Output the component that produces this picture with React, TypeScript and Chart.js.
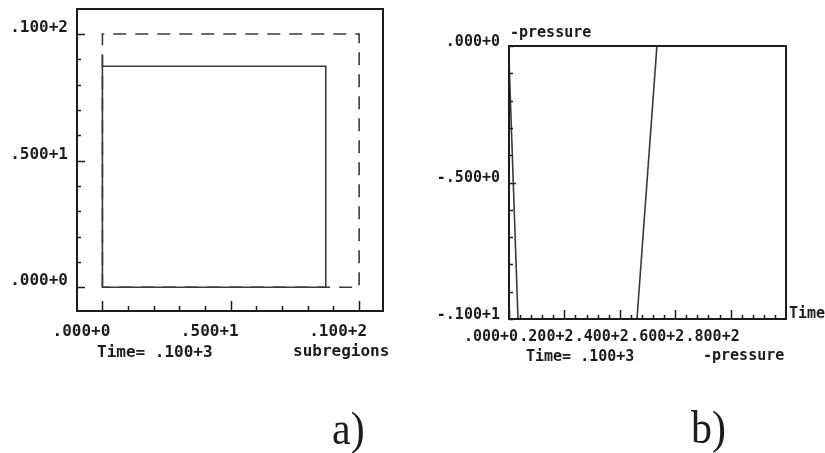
import React, { useEffect, useRef } from 'react';
import { Chart, registerables } from 'chart.js';
Chart.register(...registerables);

// ---------- Panel a) ----------
const aXTickValues = [0, 5, 10];
const aXTickLabels = ['.000+0', '.500+1', '.100+2'];
const aYTickValues = [0, 5, 10];
const aYTickLabels = ['.000+0', '.500+1', '.100+2'];
const aSolidX = [0, 0, 8.7, 8.7, 0];
const aSolidY = [9.15, 0, 0, 8.73, 8.73];
const aDashedX = [0, 0, 10, 10, 0];
const aDashedY = [0, 10, 10, 0, 0];

// ---------- Panel b) ----------
const bXTickValues = [0, 20, 40, 60, 80];
const bXTickLabels = ['.000+0', '.200+2', '.400+2', '.600+2', '.800+2'];
const bYTickValues = [-1, -0.5, 0];
const bYTickLabels = ['-.100+1', '-.500+0', '.000+0'];
const bLine1X = [0, 3.25];
const bLine1Y = [-0.05, -1];
const bLine2X = [46.2, 53.4];
const bLine2Y = [-1, 0];

const INK = '#1c1c1c';
const LINE = '#3a3a3a';
const MONO = "'DejaVu Sans Mono', 'Liberation Mono', monospace";

type TextItem = { text: string; x: number; y: number; serif?: boolean };
type TickSpec = { from: number; to: number; step: number; major: number[]; majorLen: number; minorLen: number };

function toPoints(xs: number[], ys: number[]) {
  return xs.map((x, i) => ({ x, y: ys[i] }));
}

function makePlugin(xt: TickSpec, yt: TickSpec, texts: TextItem[], fontSize: number) {
  return {
    id: 'frameAndText',
    afterDraw(chart: any) {
      const ctx = chart.ctx;
      const a = chart.chartArea;
      const xs = chart.scales.x;
      const ys = chart.scales.y;
      ctx.save();
      ctx.strokeStyle = INK;
      ctx.lineWidth = 2;
      ctx.strokeRect(a.left, a.top, a.right - a.left, a.bottom - a.top);
      ctx.lineWidth = 1.5;
      ctx.beginPath();
      const nx = Math.round((xt.to - xt.from) / xt.step);
      for (let i = 0; i <= nx; i++) {
        const v = xt.from + i * xt.step;
        const isMajor = xt.major.some((m) => Math.abs(m - v) < 1e-6);
        const px = Math.round(xs.getPixelForValue(v)) + 0.5;
        ctx.moveTo(px, a.bottom);
        ctx.lineTo(px, a.bottom - (isMajor ? xt.majorLen : xt.minorLen));
      }
      const ny = Math.round((yt.to - yt.from) / yt.step);
      for (let i = 0; i <= ny; i++) {
        const v = yt.from + i * yt.step;
        const isMajor = yt.major.some((m) => Math.abs(m - v) < 1e-6);
        const py = Math.round(ys.getPixelForValue(v)) + 0.5;
        ctx.moveTo(a.left, py);
        ctx.lineTo(a.left + (isMajor ? yt.majorLen : yt.minorLen), py);
      }
      ctx.stroke();
      ctx.fillStyle = INK;
      ctx.textBaseline = 'alphabetic';
      ctx.textAlign = 'left';
      for (const t of texts) {
        if (t.serif) {
          ctx.save();
          ctx.translate(t.x, t.y);
          ctx.scale(1, 1.12);
          ctx.font = "42px 'Liberation Serif', 'DejaVu Serif', serif";
          ctx.fillText(t.text, 0, 0);
          ctx.restore();
        } else {
          ctx.font = `bold ${fontSize}px ${MONO}`;
          ctx.fillText(t.text, t.x, t.y);
        }
      }
      ctx.restore();
    },
  };
}

function makeConfig(opts: {
  datasets: any[];
  xMin: number; xMax: number; yMin: number; yMax: number;
  xVals: number[]; xLabels: string[]; yVals: number[]; yLabels: string[];
  padding: any; yWidth: number; xHeight: number; fontSize: number;
  xLabelOffset: number; yLabelOffset: number; xPad: number; yPad: number;
  plugin: any;
}) {
  const font = { family: MONO, size: opts.fontSize, weight: 'bold' as const };
  return {
    type: 'scatter' as const,
    data: { datasets: opts.datasets },
    options: {
      animation: false,
      responsive: false,
      events: [],
      layout: { padding: opts.padding },
      plugins: { legend: { display: false }, tooltip: { enabled: false }, title: { display: false } },
      scales: {
        x: {
          type: 'linear',
          position: 'bottom',
          min: opts.xMin,
          max: opts.xMax,
          grid: { display: false, drawTicks: false },
          border: { display: false },
          afterBuildTicks: (s: any) => { s.ticks = opts.xVals.map((v) => ({ value: v })); },
          afterFit: (s: any) => {
            s.height = opts.xHeight;
            s.paddingLeft = 0; s.paddingRight = 0; s.paddingTop = 0; s.paddingBottom = 0;
          },
          ticks: {
            autoSkip: false,
            maxRotation: 0,
            minRotation: 0,
            color: INK,
            font,
            padding: opts.xPad,
            labelOffset: opts.xLabelOffset,
            callback: (_v: any, i: number) => opts.xLabels[i],
          },
        },
        y: {
          type: 'linear',
          position: 'left',
          min: opts.yMin,
          max: opts.yMax,
          grid: { display: false, drawTicks: false },
          border: { display: false },
          afterBuildTicks: (s: any) => { s.ticks = opts.yVals.map((v) => ({ value: v })); },
          afterFit: (s: any) => {
            s.width = opts.yWidth;
            s.paddingLeft = 0; s.paddingRight = 0; s.paddingTop = 0; s.paddingBottom = 0;
          },
          ticks: {
            autoSkip: false,
            color: INK,
            font,
            padding: opts.yPad,
            labelOffset: opts.yLabelOffset,
            callback: (_v: any, i: number) => opts.yLabels[i],
          },
        },
      },
    },
    plugins: [opts.plugin],
  };
}

function lineDs(data: any[], dash?: number[]) {
  return {
    data,
    showLine: true,
    pointRadius: 0,
    borderColor: LINE,
    borderWidth: 1.6,
    borderDash: dash || [],
    fill: false,
    tension: 0,
  };
}

export default function App() {
  const refA = useRef<HTMLCanvasElement>(null);
  const refB = useRef<HTMLCanvasElement>(null);

  useEffect(() => {
    const pluginA = makePlugin(
      { from: 0, to: 10, step: 1, major: [0, 5, 10], majorLen: 10, minorLen: 5 },
      { from: 0, to: 10, step: 1, major: [0, 5, 10], majorLen: 8, minorLen: 4 },
      [
        { text: 'Time= .100+3', x: 97, y: 357 },
        { text: 'subregions', x: 293, y: 356 },
        { text: 'a)', x: 332, y: 444, serif: true },
      ],
      16
    );
    const chartA = new Chart(refA.current as HTMLCanvasElement, makeConfig({
      datasets: [lineDs(toPoints(aSolidX, aSolidY)), lineDs(toPoints(aDashedX, aDashedY), [13, 9])],
      xMin: -0.99, xMax: 10.93, yMin: -0.94, yMax: 10.99,
      xVals: aXTickValues, xLabels: aXTickLabels, yVals: aYTickValues, yLabels: aYTickLabels,
      padding: { left: 0, top: 9, right: 29, bottom: 82 },
      yWidth: 77, xHeight: 60, fontSize: 16,
      xLabelOffset: -21, yLabelOffset: -6, xPad: 11, yPad: 9,
      plugin: pluginA,
    }) as any);

    const pluginB = makePlugin(
      { from: 0, to: 96, step: 4, major: [0, 20, 40, 60, 80], majorLen: 9, minorLen: 4 },
      { from: -1, to: 0, step: 0.1, major: [-0.5], majorLen: 7, minorLen: 4 },
      [
        { text: '-pressure', x: 98, y: 37 },
        { text: 'Time', x: 377, y: 318 },
        { text: 'Time= .100+3', x: 114, y: 361 },
        { text: '-pressure', x: 291, y: 360 },
        { text: 'b)', x: 279, y: 443, serif: true },
      ],
      15
    );
    const chartB = new Chart(refB.current as HTMLCanvasElement, makeConfig({
      datasets: [lineDs(toPoints(bLine1X, bLine1Y)), lineDs(toPoints(bLine2X, bLine2Y))],
      xMin: 0, xMax: 100, yMin: -1, yMax: 0,
      xVals: bXTickValues, xLabels: bXTickLabels, yVals: bYTickValues, yLabels: bYTickLabels,
      padding: { left: 0, top: 46, right: 39, bottom: 74 },
      yWidth: 97, xHeight: 60, fontSize: 15,
      xLabelOffset: -18, yLabelOffset: -4, xPad: 9, yPad: 9,
      plugin: pluginB,
    }) as any);

    return () => {
      chartA.destroy();
      chartB.destroy();
    };
  }, []);

  return (
    <div style={{ position: 'absolute', left: 0, top: 0, width: 825, height: 453, background: '#fff', overflow: 'hidden' }}>
      <canvas ref={refA} width={412} height={453} style={{ position: 'absolute', left: 0, top: 0, width: 412, height: 453 }} />
      <canvas ref={refB} width={413} height={453} style={{ position: 'absolute', left: 412, top: 0, width: 413, height: 453 }} />
    </div>
  );
}
